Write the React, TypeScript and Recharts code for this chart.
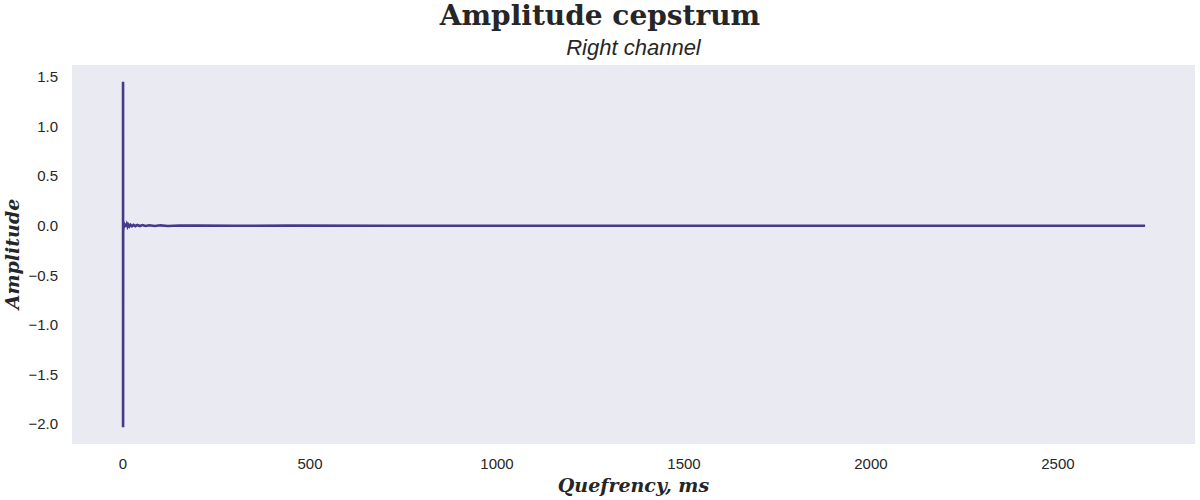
import { LineChart, Line, XAxis, YAxis, CartesianGrid } from "recharts";

// quefrency (ms) and cepstrum amplitude
const QUEFRENCY = [
  0, 0.1, 0.3, 0.5, 0.8, 1.2, 1.6, 2, 3, 4, 5, 6, 7, 8, 10, 12, 14, 17, 20, 24,
  28, 33, 38, 45, 52, 60, 70, 85, 100, 120, 150, 200, 300, 450, 700, 1000, 1400,
  1800, 2200, 2500, 2733,
];
const AMPLITUDE = [
  1.45, -2.03, 0.05, -0.06, 0.04, -0.03, 0.035, -0.02, 0.025, -0.015, 0.02,
  -0.012, 0.016, -0.01, 0.014, -0.008, 0.012, -0.006, 0.01, -0.005, 0.009,
  -0.004, 0.008, -0.003, 0.007, -0.003, 0.005, -0.002, 0.004, -0.002, 0.003,
  0.001, 0.0, 0.001, 0.0, 0.0, 0.0, 0.0, 0.0, 0.0, 0.0,
];
const X_TICKS = [0, 500, 1000, 1500, 2000, 2500];
const Y_TICKS = [-2.0, -1.5, -1.0, -0.5, 0.0, 0.5, 1.0, 1.5];

const data = QUEFRENCY.map((q, i) => ({ q, amp: AMPLITUDE[i] }));

const TICK = { fill: "#262626", fontSize: 15, fontFamily: "Liberation Sans, Arial, sans-serif" };
const SERIF = "DejaVu Serif, serif";

const fmtY = (v: number) => v.toFixed(1).replace("-", "\u2212");

export default function App() {
  return (
    <div style={{ position: "absolute", left: 0, top: 0, width: 1200, height: 500, background: "#fff" }}>
      <div style={{ position: "absolute", left: 0, width: 1200, top: 0, textAlign: "center",
                    fontFamily: SERIF, fontWeight: "bold", fontSize: 28, color: "#262626", lineHeight: "32px" }}>
        Amplitude cepstrum
      </div>
      <div style={{ position: "absolute", left: 72, width: 1123, top: 35, textAlign: "center",
                    fontFamily: "Liberation Sans, Arial, sans-serif", fontStyle: "italic", fontSize: 22,
                    color: "#262626", lineHeight: "26px" }}>
        Right channel
      </div>

      <LineChart width={1200} height={500} data={data}
                 margin={{ top: 65, right: 5, bottom: 26, left: 0 }}>
        <CartesianGrid fill="#EAEAF2" stroke="none" horizontal={false} vertical={false} />
        <XAxis
          dataKey="q"
          type="number"
          domain={[-136.5, 2866.5]}
          ticks={X_TICKS}
          axisLine={false}
          tickLine={false}
          tickMargin={8}
          height={30}
          tick={TICK}
          allowDataOverflow
        />
        <YAxis
          type="number"
          domain={[-2.2, 1.62]}
          ticks={Y_TICKS}
          tickFormatter={fmtY}
          axisLine={false}
          tickLine={false}
          tickMargin={8}
          width={72}
          tick={TICK}
          allowDataOverflow
        />
        <Line
          type="linear"
          dataKey="amp"
          stroke="#46398A"
          strokeWidth={2.6}
          dot={false}
          isAnimationActive={false}
        />
      </LineChart>

      <div style={{ position: "absolute", left: 72, width: 1123, top: 472, textAlign: "center",
                    fontFamily: SERIF, fontWeight: "bold", fontStyle: "italic", fontSize: 19,
                    color: "#262626", lineHeight: "26px" }}>
        Quefrency, ms
      </div>
      <div style={{ position: "absolute", left: 12, top: 254, transform: "translate(-50%, -50%) rotate(-90deg)",
                    fontFamily: SERIF, fontWeight: "bold", fontStyle: "italic", fontSize: 19,
                    color: "#262626", lineHeight: "24px", whiteSpace: "nowrap" }}>
        Amplitude
      </div>
    </div>
  );
}
